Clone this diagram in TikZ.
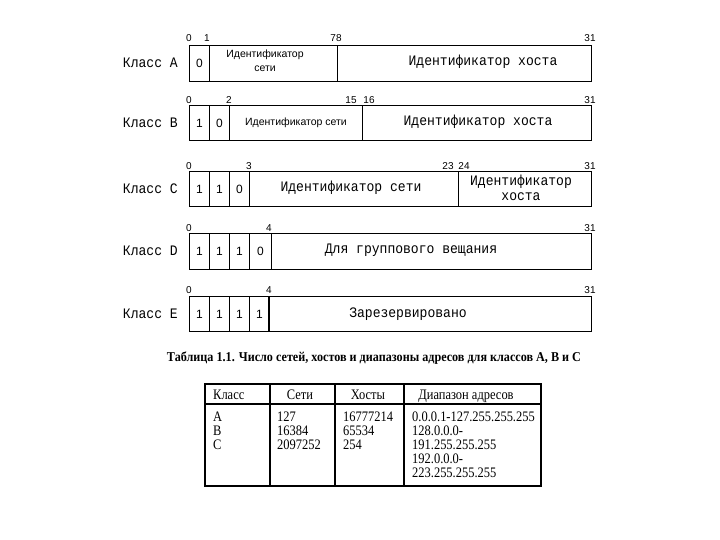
\documentclass[tikz,border=0pt]{standalone}
\usepackage{graphicx}
\usepackage{fontspec}
\setmainfont{Liberation Serif}
\newfontfamily\monof{Liberation Mono}
\newfontfamily\sansf{Liberation Sans}
\newcommand\mx[1]{\scalebox{0.9}[1]{\monof\fontsize{14.5}{16}\selectfont #1}}
\newcommand\tx[1]{\scalebox{0.86}[1]{\fontsize{14.5}{16}\selectfont #1}}
\begin{document}
\begin{tikzpicture}[x=1pt,y=-1pt,
  cell/.style={draw, line width=0.8pt, inner sep=0pt, anchor=north west,
    minimum height=36pt, font=\sansf\fontsize{12}{14}\selectfont},
  lbl/.style={inner sep=0pt},
  smallsans/.style={inner sep=0pt, font=\sansf\fontsize{10.5}{14}\selectfont},
  bitno/.style={inner sep=0pt, font=\sansf\fontsize{10}{11}\selectfont},
  cls/.style={anchor=east, inner sep=0pt},
  tbl/.style={inner sep=0pt},
  frame/.style={line width=2pt}]
\useasboundingbox (0,0) rectangle (720,540);

% ---------- Class A ----------
\node[cls] (ca) at (178,63) {\mx{Класс A}};
\node[cell, minimum width=20pt] (a1) at (189,45) {0};
\node[cell, minimum width=128pt] (a2) at (209,45) {};
\node[cell, minimum width=254pt] (a3) at (337,45) {};
\node[smallsans] (a2t1) at (265,55) {Идентификатор};
\node[smallsans] (a2t2) at (265,69) {сети};
\node[lbl] (a3t) at (483,62) {\mx{Идентификатор хоста}};
\node[bitno] (ab0) at (189,38) {0};
\node[bitno] (ab1) at (207,38) {1};
\node[bitno] (ab7) at (336,38) {78};
\node[bitno] (ab31) at (590,38) {31};

% ---------- Class B ----------
\node[cls] (cb) at (178,122.5) {\mx{Класс B}};
\node[cell, minimum width=20pt, minimum height=35pt] (b1) at (189,105) {1};
\node[cell, minimum width=20pt, minimum height=35pt] (b2) at (209,105) {0};
\node[cell, minimum width=133pt, minimum height=35pt] (b3) at (229,105) {};
\node[smallsans] (b3t) at (296,123) {Идентификатор сети};
\node[cell, minimum width=229pt, minimum height=35pt] (b4) at (362,105) {};
\node[lbl] (b4t) at (478,122) {\mx{Идентификатор хоста}};
\node[bitno] (bb0) at (189,100) {0};
\node[bitno] (bb2) at (229,100) {2};
\node[bitno] (bb15) at (351,100) {15};
\node[bitno] (bb16) at (369,100) {16};
\node[bitno] (bb31) at (590,100) {31};

% ---------- Class C ----------
\node[cls] (cc) at (178,189) {\mx{Класс C}};
\node[cell, minimum width=20pt, minimum height=35pt] (c1) at (189,171.5) {1};
\node[cell, minimum width=20pt, minimum height=35pt] (c2) at (209,171.5) {1};
\node[cell, minimum width=20pt, minimum height=35pt] (c3) at (229,171.5) {0};
\node[cell, minimum width=209pt, minimum height=35pt] (c4) at (249,171.5) {};
\node[lbl] (c4t) at (351,188) {\mx{Идентификатор сети}};
\node[cell, minimum width=133pt, minimum height=35pt] (c5) at (458,171.5) {};
\node[lbl] (c5t1) at (521,182) {\mx{Идентификатор}};
\node[lbl] (c5t2) at (521,197) {\mx{хоста}};
\node[bitno] (cb0) at (189,166) {0};
\node[bitno] (cb3) at (249,166) {3};
\node[bitno] (cb23) at (448,166) {23};
\node[bitno] (cb24) at (464,166) {24};
\node[bitno] (cb31) at (590,166) {31};

% ---------- Class D ----------
\node[cls] (cd) at (178,251) {\mx{Класс D}};
\node[cell, minimum width=20pt] (d1) at (189,233) {1};
\node[cell, minimum width=20pt] (d2) at (209,233) {1};
\node[cell, minimum width=20pt] (d3) at (229,233) {1};
\node[cell, minimum width=22pt] (d4) at (249,233) {0};
\node[cell, minimum width=320pt] (d5) at (271,233) {};
\node[lbl] (d5t) at (411,250) {\mx{Для группового вещания}};
\node[bitno] (db0) at (189,228) {0};
\node[bitno] (db4) at (269,228) {4};
\node[bitno] (db31) at (590,228) {31};

% ---------- Class E ----------
\node[cls] (ce) at (178,313.5) {\mx{Класс E}};
\node[cell, minimum width=20pt, minimum height=35pt] (e1) at (189,296) {1};
\node[cell, minimum width=20pt, minimum height=35pt] (e2) at (209,296) {1};
\node[cell, minimum width=20pt, minimum height=35pt] (e3) at (229,296) {1};
\node[cell, minimum width=20pt, minimum height=35pt] (e4) at (249,296) {1};
\node[cell, minimum width=322pt, minimum height=35pt] (e5) at (269,296) {};
\node[lbl] (e5t) at (408,314) {\mx{Зарезервировано}};
\draw[line width=2pt] (e5.north west) -- (e5.south west);
\node[bitno] (eb0) at (189,290) {0};
\node[bitno] (eb4) at (269,290) {4};
\node[bitno] (eb31) at (590,290) {31};

% ---------- Caption ----------
\node[inner sep=0pt] (cap) at (374,358)
  {\scalebox{0.9}[1]{\bfseries\fontsize{13.5}{15}\selectfont Таблица 1.1. Число сетей, хостов и диапазоны адресов для классов A, B и C}};

% ---------- Table ----------
\node[draw, frame, inner sep=0pt, minimum width=336pt, minimum height=102pt, anchor=north west] (tab) at (204,383) {};
\draw[frame] (204,404) -- (540,404);
\draw[frame] (270,383) -- (270,485);
\draw[frame] (335,383) -- (335,485);
\draw[frame] (404,383) -- (404,485);

\node[tbl, anchor=base west] (h1) at (213,399) {\tx{Класс}};
\node[tbl, anchor=base] (h2) at (300,399) {\tx{Сети}};
\node[tbl, anchor=base] (h3) at (368,399) {\tx{Хосты}};
\node[tbl, anchor=base] (h4) at (466,399) {\tx{Диапазон адресов}};

\node[tbl, anchor=base west] (r1a) at (213,421) {\tx{A}};
\node[tbl, anchor=base west] (r2a) at (213,435) {\tx{B}};
\node[tbl, anchor=base west] (r3a) at (213,449) {\tx{C}};
\node[tbl, anchor=base west] (r1b) at (277,421) {\tx{127}};
\node[tbl, anchor=base west] (r2b) at (277,435) {\tx{16384}};
\node[tbl, anchor=base west] (r3b) at (277,449) {\tx{2097252}};
\node[tbl, anchor=base west] (r1c) at (343,421) {\tx{16777214}};
\node[tbl, anchor=base west] (r2c) at (343,435) {\tx{65534}};
\node[tbl, anchor=base west] (r3c) at (343,449) {\tx{254}};
\node[tbl, anchor=base west] (d1l) at (412,421) {\tx{0.0.0.1-127.255.255.255}};
\node[tbl, anchor=base west] (d2l) at (412,435) {\tx{128.0.0.0-}};
\node[tbl, anchor=base west] (d3l) at (412,449) {\tx{191.255.255.255}};
\node[tbl, anchor=base west] (d4l) at (412,463) {\tx{192.0.0.0-}};
\node[tbl, anchor=base west] (d5l) at (412,477) {\tx{223.255.255.255}};
\end{tikzpicture}
\end{document}
